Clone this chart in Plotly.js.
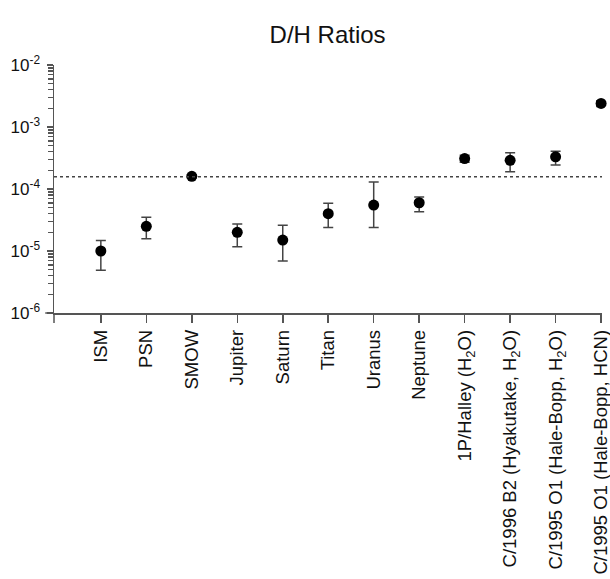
<!DOCTYPE html>
<html>
<head>
<meta charset="utf-8">
<script src="https://cdn.plot.ly/plotly-3.0.1.min.js"></script>
<style>html,body{margin:0;padding:0;background:#fff;}#chart{width:610px;height:579px;}</style>
</head>
<body>
<div id="chart"></div>
<script>
const categories = ["ISM", "PSN", "SMOW", "Jupiter", "Saturn", "Titan", "Uranus", "Neptune",
  "1P/Halley (H<sub>2</sub>O)", "C/1996 B2 (Hyakutake, H<sub>2</sub>O)",
  "C/1995 O1 (Hale-Bopp, H<sub>2</sub>O)", "C/1995 O1 (Hale-Bopp, HCN)"];
const dhValues = [1.0e-5, 2.5e-5, 1.6e-4, 2.0e-5, 1.5e-5, 4.0e-5, 5.5e-5, 6.0e-5, 3.1e-4, 2.9e-4, 3.3e-4, 2.4e-3];
const dhUpper  = [1.48e-5, 3.5e-5, 1.7e-4, 2.72e-5, 2.6e-5, 5.9e-5, 1.3e-4, 7.4e-5, 3.5e-4, 3.86e-4, 4.06e-4, 2.65e-3];
const dhLower  = [4.9e-6, 1.58e-5, 1.5e-4, 1.17e-5, 6.9e-6, 2.4e-5, 2.4e-5, 4.3e-5, 2.7e-4, 1.9e-4, 2.44e-4, 2.15e-3];
const smowLevel = 1.57e-4;
const yTickVals = [1e-6, 1e-5, 1e-4, 1e-3, 1e-2];
const yTickText = ["10<sup>-6</sup>", "10<sup>-5</sup>", "10<sup>-4</sup>", "10<sup>-3</sup>", "10<sup>-2</sup>"];

const errPlus = dhValues.map((v, i) => dhUpper[i] - v);
const errMinus = dhValues.map((v, i) => v - dhLower[i]);
const minorVals = [];
yTickVals.slice(0, -1).forEach(d => { for (let k = 2; k <= 9; k++) minorVals.push(d * k); });

const trace = {
  type: "scatter",
  mode: "markers",
  x: categories,
  y: dhValues,
  marker: {color: "#000", size: 11},
  error_y: {type: "data", symmetric: false, array: errPlus, arrayminus: errMinus,
            color: "#444", thickness: 1.5, width: 5},
  showlegend: false,
  cliponaxis: false
};
// empty trace bound to the overlay axis that carries the minor ticks
const minorHolder = {type: "scatter", mode: "markers", x: [], y: [], yaxis: "y2", showlegend: false, hoverinfo: "skip"};

const axisColor = "#555";
const layout = {
  width: 610, height: 579,
  margin: {l: 54, r: 8, t: 65, b: 266},
  paper_bgcolor: "#fff", plot_bgcolor: "#fff",
  font: {family: "Liberation Sans, Arial, sans-serif", color: "#111"},
  title: {text: "D/H Ratios", font: {size: 24, color: "#111"}, x: 0.537, xanchor: "center",
          yref: "container", y: 0.94, yanchor: "middle"},
  xaxis: {
    type: "category", categoryorder: "array", categoryarray: categories,
    range: [-1.03, 11.02],
    showline: true, linecolor: axisColor, linewidth: 1.5,
    ticks: "outside", ticklen: 8, tickwidth: 1.5, tickcolor: axisColor,
    tickangle: -90, tickfont: {size: 18.5, color: "#111"},
    showgrid: false, zeroline: false
  },
  yaxis: {
    type: "log", range: [-6, -2],
    tickmode: "array", tickvals: yTickVals, ticktext: yTickText,
    ticklabelstandoff: 3,
    showline: true, linecolor: axisColor, linewidth: 1.5,
    ticks: "outside", ticklen: 6, tickwidth: 1.5, tickcolor: axisColor,
    tickfont: {size: 17, color: "#111"},
    showgrid: false, zeroline: false
  },
  yaxis2: {
    type: "log", range: [-6, -2], overlaying: "y", side: "left", anchor: "x",
    tickmode: "array", tickvals: minorVals, showticklabels: false,
    ticks: "outside", ticklen: 5, tickwidth: 1.5, tickcolor: axisColor,
    showline: false, showgrid: false, zeroline: false
  },
  shapes: [
    {type: "line", xref: "paper", x0: 0, x1: 1, yref: "y", y0: smowLevel, y1: smowLevel,
     line: {color: "#444", width: 1.5, dash: "dot"}},
    {type: "line", xref: "paper", yref: "paper", x0: -0.016, x1: 0, y0: 0, y1: 0,
     line: {color: axisColor, width: 1.5}},
    {type: "line", xref: "paper", yref: "paper", x0: 0, x1: 0, y0: 0, y1: -0.04,
     line: {color: axisColor, width: 1.5}}
  ]
};

Plotly.newPlot("chart", [trace, minorHolder], layout, {displayModeBar: false, staticPlot: true});
</script>
</body>
</html>
